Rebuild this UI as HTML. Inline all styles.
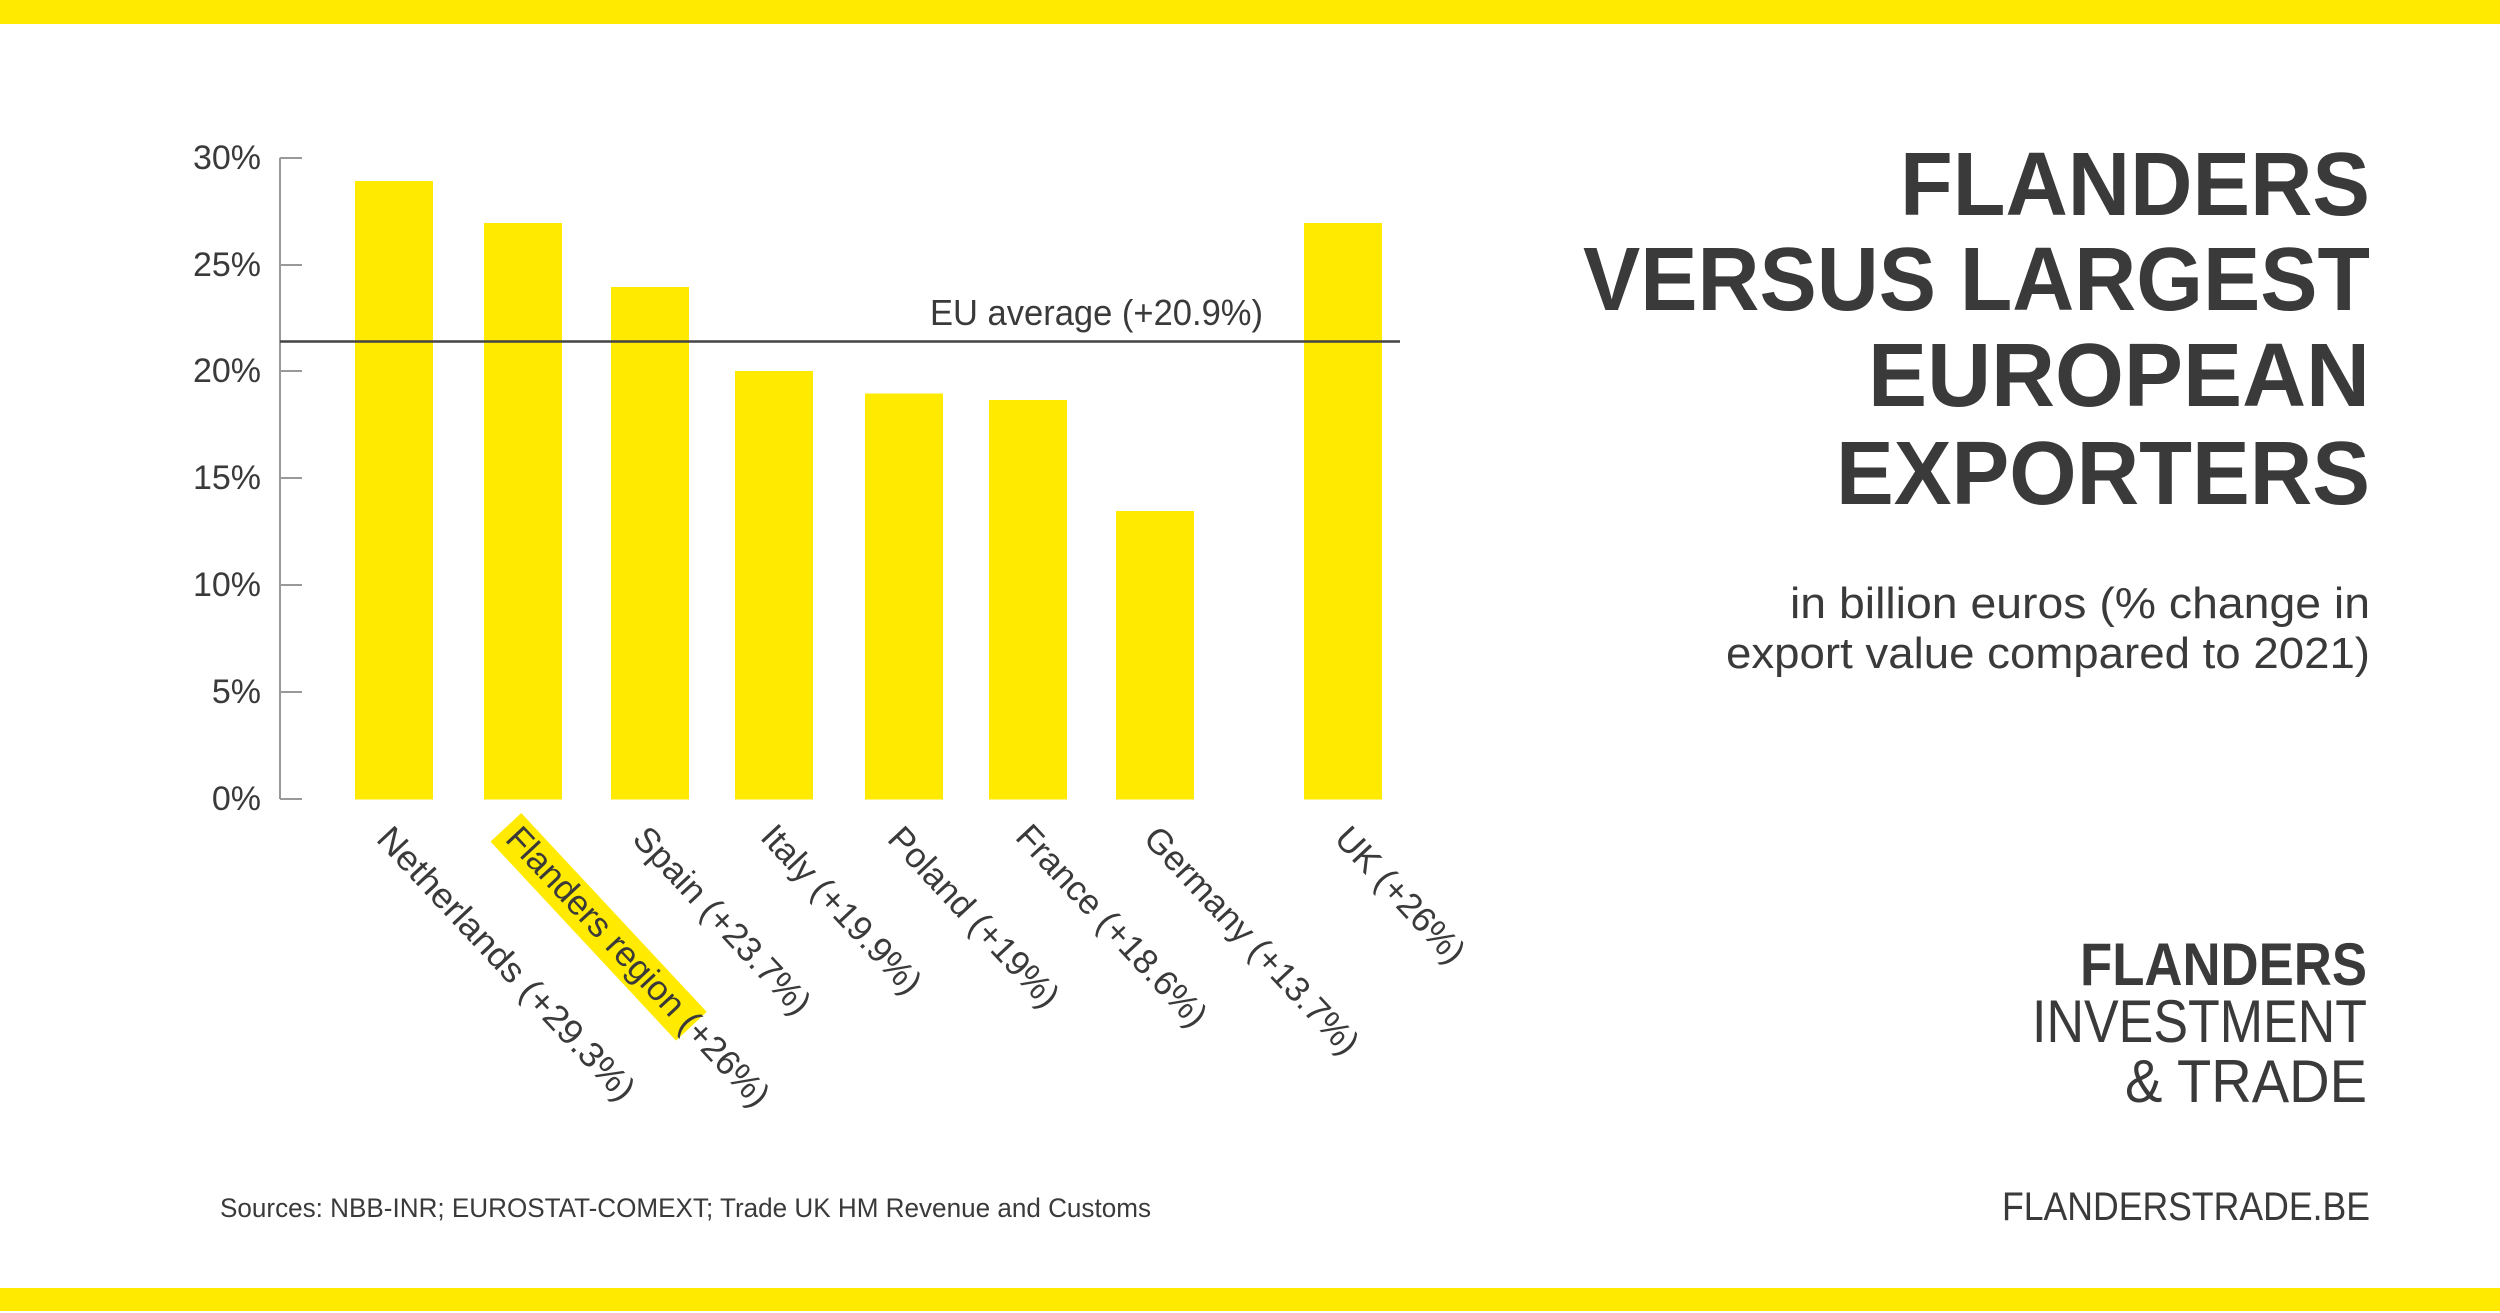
<!DOCTYPE html>
<html><head><meta charset="utf-8"><style>
html,body{margin:0;padding:0;background:#fff;}
svg{display:block;}
</style></head><body>
<svg width="2500" height="1313" viewBox="0 0 2500 1313" xmlns="http://www.w3.org/2000/svg">
<rect x="0" y="0" width="2500" height="24" fill="#FFEA00"/>
<rect x="0" y="1288" width="2500" height="23" fill="#FFEA00"/>
<g fill="#FFEA00">
<rect x="355" y="181" width="78" height="618.5"/>
<rect x="484" y="223" width="78" height="576.5"/>
<rect x="611" y="287" width="78" height="512.5"/>
<rect x="735" y="371" width="78" height="428.5"/>
<rect x="865" y="393.5" width="78" height="406"/>
<rect x="989" y="400" width="78" height="399.5"/>
<rect x="1116" y="511" width="78" height="288.5"/>
<rect x="1304" y="223" width="78" height="576.5"/>
</g>
<g stroke="#999" stroke-width="2">
<line x1="280" y1="157.7" x2="280" y2="799"/>
<line x1="280" y1="158" x2="302" y2="158"/>
<line x1="280" y1="265" x2="302" y2="265"/>
<line x1="280" y1="371" x2="302" y2="371"/>
<line x1="280" y1="478" x2="302" y2="478"/>
<line x1="280" y1="585" x2="302" y2="585"/>
<line x1="280" y1="692" x2="302" y2="692"/>
<line x1="280" y1="799" x2="302" y2="799"/>
</g>
<line x1="280" y1="341.5" x2="1400" y2="341.5" stroke="#444" stroke-width="2.5"/>
<g font-family="'Liberation Sans Narrow','Liberation Sans',sans-serif" font-size="34" fill="#3a3a3a" text-anchor="end">
<text x="261" y="169">30%</text>
<text x="261" y="276">25%</text>
<text x="261" y="382">20%</text>
<text x="261" y="489">15%</text>
<text x="261" y="596">10%</text>
<text x="261" y="703">5%</text>
<text x="261" y="810">0%</text>
</g>
<text x="930" y="325" font-family="'Liberation Sans Narrow','Liberation Sans',sans-serif" font-size="36" fill="#3a3a3a" textLength="333" lengthAdjust="spacingAndGlyphs">EU average (+20.9%)</text>
<g font-family="'Liberation Sans',sans-serif" font-size="35" fill="#3a3a3a">
<g transform="translate(375,840) rotate(47)"><text x="0" y="0" textLength="360" lengthAdjust="spacingAndGlyphs">Netherlands (+29.3%)</text></g>
<g transform="translate(504,840) rotate(47)"><rect x="-8" y="-31" width="272" height="42" fill="#FFEA00"/><text x="0" y="0" textLength="368" lengthAdjust="spacingAndGlyphs">Flanders region (+26%)</text></g>
<g transform="translate(631,840) rotate(47)"><text x="0" y="0">Spain (+23.7%)</text></g>
<g transform="translate(759,838) rotate(47)"><text x="0" y="0">Italy (+19.9%)</text></g>
<g transform="translate(886,840) rotate(47)"><text x="0" y="0">Poland (+19%)</text></g>
<g transform="translate(1014,838) rotate(47)"><text x="0" y="0">France (+18.6%)</text></g>
<g transform="translate(1142,840) rotate(47)"><text x="0" y="0">Germany (+13.7%)</text></g>
<g transform="translate(1333,840) rotate(47)"><text x="0" y="0">UK (+26%)</text></g>
</g>
<g font-family="'Liberation Sans',sans-serif" font-weight="bold" font-size="90" fill="#3a3a3a" text-anchor="end">
<text x="2370" y="215" textLength="470" lengthAdjust="spacingAndGlyphs">FLANDERS</text>
<text x="2370" y="310" textLength="787" lengthAdjust="spacingAndGlyphs">VERSUS LARGEST</text>
<text x="2370" y="406" textLength="502" lengthAdjust="spacingAndGlyphs">EUROPEAN</text>
<text x="2370" y="504" textLength="534" lengthAdjust="spacingAndGlyphs">EXPORTERS</text>
</g>
<g font-family="'Liberation Sans',sans-serif" font-size="44" fill="#3a3a3a" text-anchor="end">
<text x="2370" y="618" textLength="580" lengthAdjust="spacingAndGlyphs">in billion euros (% change in</text>
<text x="2370" y="668" textLength="644" lengthAdjust="spacingAndGlyphs">export value compared to 2021)</text>
</g>
<g font-family="'Liberation Sans',sans-serif" font-size="60" fill="#3a3a3a" text-anchor="end">
<text x="2367" y="985" font-weight="bold" textLength="287" lengthAdjust="spacingAndGlyphs">FLANDERS</text>
<text x="2367" y="1042" textLength="335" lengthAdjust="spacingAndGlyphs">INVESTMENT</text>
<text x="2367" y="1102" textLength="242" lengthAdjust="spacingAndGlyphs">&amp; TRADE</text>
</g>
<text x="2370" y="1220" font-family="'Liberation Sans',sans-serif" font-size="40" fill="#3a3a3a" text-anchor="end" textLength="368" lengthAdjust="spacingAndGlyphs">FLANDERSTRADE.BE</text>
<text x="220" y="1217" font-family="'Liberation Sans',sans-serif" font-size="27" fill="#3a3a3a" textLength="931" lengthAdjust="spacingAndGlyphs">Sources: NBB-INR; EUROSTAT-COMEXT; Trade UK HM Revenue and Customs</text>
</svg>
</body></html>
